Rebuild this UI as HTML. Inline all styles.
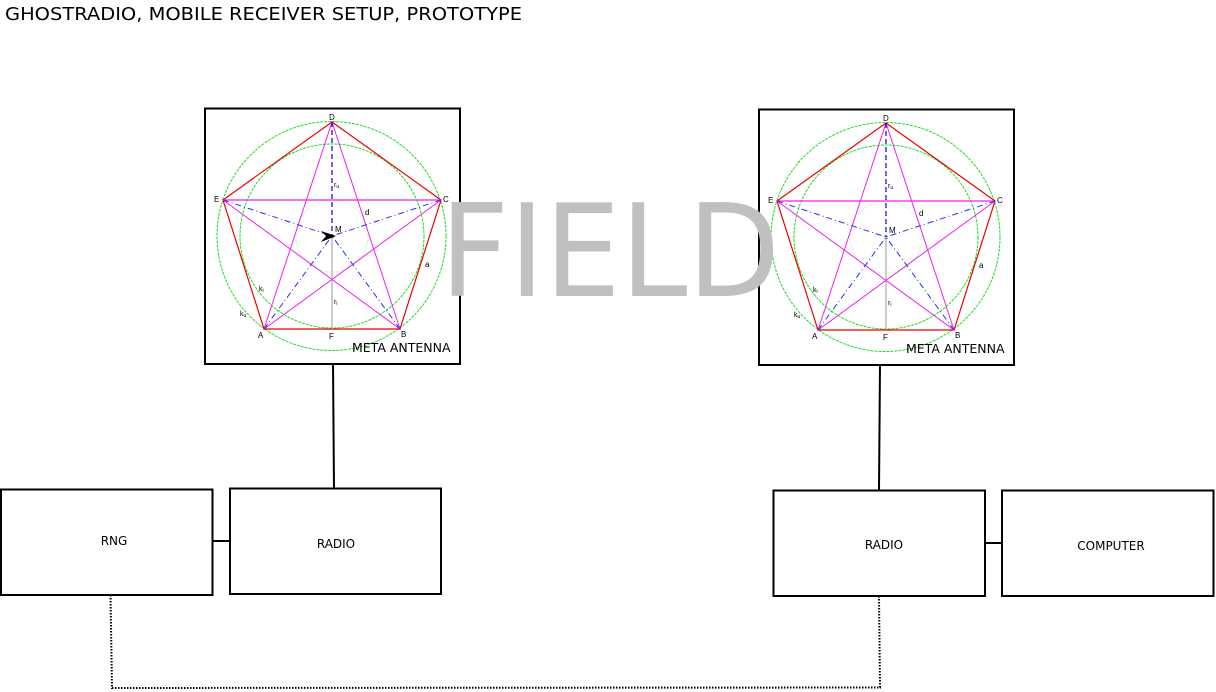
<!DOCTYPE html>
<html><head><meta charset="utf-8"><style>html,body{margin:0;padding:0;background:#fff}svg{display:block}</style></head>
<body>
<svg width="1216" height="692" viewBox="0 0 1216 692" xmlns="http://www.w3.org/2000/svg" font-family="DejaVu Sans, Liberation Sans, sans-serif">
<defs>
<g id="fig">
  <rect x="205" y="108.5" width="255" height="255.5" fill="#fff" stroke="#000" stroke-width="2"/>
  <circle cx="331.5" cy="236" r="114.5" fill="none" stroke="#22dd22" stroke-width="1" stroke-dasharray="3,1"/>
  <circle cx="332" cy="236" r="92" fill="none" stroke="#22dd22" stroke-width="1" stroke-dasharray="3,1"/>
  <circle cx="332" cy="236" r="36" fill="none" stroke="#aaeeaa" stroke-width="0.8" stroke-dasharray="1,1"/>
  <polygon points="332,122 441,200 400,329 264,329 223,200" fill="none" stroke="#ee0000" stroke-width="1.2"/>
  <polyline points="332,122 400,329 223,200 441,200 264,329 332,122" fill="none" stroke="#ee22ee" stroke-width="1"/>
  <line x1="223" y1="200" x2="441" y2="200" stroke="#ee22ee" stroke-width="1.3"/>
  <line x1="332" y1="122" x2="332" y2="236" stroke="#0000ee" stroke-width="1.2" stroke-dasharray="5,3"/>
  <g stroke="#2233ee" stroke-width="1" stroke-dasharray="6,3,1,3" fill="none">
    <line x1="223" y1="200" x2="332" y2="236"/><line x1="441" y1="200" x2="332" y2="236"/>
    <line x1="264" y1="329" x2="332" y2="236"/><line x1="400" y1="329" x2="332" y2="236"/>
  </g>
  <line x1="332" y1="236" x2="332" y2="329" stroke="#999" stroke-width="1"/>
  <g font-size="8" fill="#000" font-family="Liberation Sans, sans-serif">
    <text x="329" y="120">D</text><text x="214" y="202">E</text><text x="443" y="202">C</text>
    <text x="258" y="338">A</text><text x="401" y="337">B</text><text x="329" y="339">F</text>
    <text x="335" y="232">M</text><text x="365" y="215">d</text><text x="425" y="267">a</text>
    <text x="334" y="187" font-size="7">r<tspan font-size="5" dy="1">u</tspan></text>
    <text x="334" y="304" font-size="7">r<tspan font-size="5" dy="1">i</tspan></text>
    <text x="259" y="291" font-size="7">k<tspan font-size="5" dy="1">i</tspan></text>
    <text x="240" y="316" font-size="7">k<tspan font-size="5" dy="1">u</tspan></text>
  </g>
  <text x="352" y="352" font-size="12.5" fill="#000">META ANTENNA</text>
</g>
</defs>
<text x="5" y="20" font-size="18" textLength="517" lengthAdjust="spacingAndGlyphs">GHOSTRADIO, MOBILE RECEIVER SETUP, PROTOTYPE</text>
<use href="#fig"/>
<use href="#fig" transform="translate(554,1)"/>
<polygon points="321,231 336,236 321,242 326,236" fill="#000"/>
<text x="440" y="296" font-size="128" fill="#c0c0c0" textLength="340" lengthAdjust="spacingAndGlyphs">FIELD</text>
<g stroke="#000" stroke-width="2" fill="none">
  <line x1="333" y1="364" x2="334" y2="488"/>
  <line x1="880" y1="365" x2="879" y2="490"/>
  <line x1="212" y1="541" x2="230" y2="541"/>
  <line x1="985" y1="543" x2="1002" y2="543"/>
  <rect x="1" y="489.5" width="211.5" height="105.5"/>
  <rect x="230" y="488.5" width="211" height="105.5"/>
  <rect x="773.5" y="490.5" width="211.5" height="105.5"/>
  <rect x="1002" y="490.5" width="211.5" height="105.5"/>
</g>
<polyline points="110.5,595 112,688 880,687.5 879,596" fill="none" stroke="#000" stroke-width="2" stroke-dasharray="1.5,1.5"/>
<g font-size="12" fill="#000" text-anchor="middle">
  <text x="114" y="545">RNG</text>
  <text x="336" y="548">RADIO</text>
  <text x="884" y="549">RADIO</text>
  <text x="1111" y="550">COMPUTER</text>
</g>
</svg>
</body></html>
